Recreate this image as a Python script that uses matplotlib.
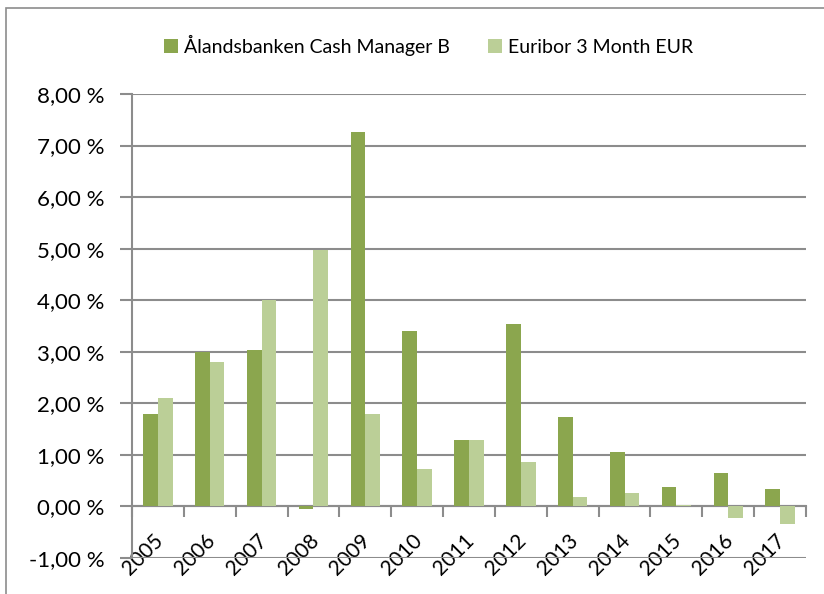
import matplotlib
matplotlib.use("Agg")
import matplotlib.pyplot as plt
from matplotlib.patches import Rectangle
from matplotlib.ticker import FuncFormatter, FixedLocator
from matplotlib.transforms import ScaledTranslation
import numpy as np

# data (percent)
years = ["2005", "2006", "2007", "2008", "2009", "2010", "2011",
         "2012", "2013", "2014", "2015", "2016", "2017"]
cash_manager = [1.79, 2.99, 3.04, -0.05, 7.26, 3.40, 1.28,
                3.53, 1.74, 1.05, 0.38, 0.65, 0.33]
euribor = [2.10, 2.80, 4.01, 4.98, 1.79, 0.73, 1.28,
           0.87, 0.19, 0.27, 0.02, -0.23, -0.34]
series_names = ["Ålandsbanken Cash Manager B", "Euribor 3 Month EUR"]
y_ticks = [-1, 0, 1, 2, 3, 4, 5, 6, 7, 8]

DARK = "#8ba64e"
LIGHT = "#bbcf97"
GRID = "#8c8c8c"

plt.rcParams["font.family"] = ["Lato", "DejaVu Sans"]

fig = plt.figure(figsize=(8.24, 5.94), dpi=100)
ax = fig.add_axes([132 / 824, 1 - 558 / 594, (806 - 132) / 824, (558 - 94) / 594])

x = np.arange(len(years))
w = 0.283
ax.bar(x - w / 2, cash_manager, w, color=DARK, label=series_names[0], zorder=3)
ax.bar(x + w / 2, euribor, w, color=LIGHT, label=series_names[1], zorder=3)

ax.set_xlim(-0.5, len(years) - 0.5)
ax.set_ylim(-1, 8)

# y axis
ax.yaxis.set_major_locator(FixedLocator(y_ticks))
ax.yaxis.set_major_formatter(FuncFormatter(lambda v, _: f"{v:.2f} %".replace(".", ",")))
ax.tick_params(axis="y", length=9, width=1.5, color=GRID, labelsize=16, pad=11)
ax.grid(axis="y", color=GRID, lw=1.5, zorder=1)

# x axis sits on zero
ax.spines["bottom"].set_position(("data", 0))
ax.spines["bottom"].set_color(GRID)
ax.spines["bottom"].set_linewidth(1.5)
ax.spines["left"].set_color(GRID)
ax.spines["left"].set_linewidth(1.5)
ax.spines["top"].set_visible(False)
ax.spines["right"].set_visible(False)
ax.set_xticks(x)
ax.set_xticklabels(years, rotation=45, ha="right", va="top", rotation_mode="anchor")
ax.set_xticks(np.arange(len(years) + 1) - 0.5, minor=True)
ax.tick_params(axis="x", which="major", length=0, labelsize=15, pad=17)
ax.tick_params(axis="x", which="minor", length=8, width=1.5, color=GRID)
shift = ScaledTranslation(-5 / 100, 0, fig.dpi_scale_trans)
for lbl in ax.get_xticklabels():
    lbl.set_transform(lbl.get_transform() + shift)

ax.legend(loc="center", bbox_to_anchor=(0.52, 1 - 45 / 594), bbox_transform=fig.transFigure,
          ncol=2, frameon=False, fontsize=14, handlelength=0.7, handleheight=0.7,
          handletextpad=0.3, columnspacing=2.0)

# outer chart frame
fig.patches.append(Rectangle((6 / 824, -0.1), 1.2, 1 - 8 / 594 + 0.1,
                             transform=fig.transFigure, fill=False,
                             edgecolor=GRID, lw=1.2))

fig.savefig("out.png", dpi=100)
